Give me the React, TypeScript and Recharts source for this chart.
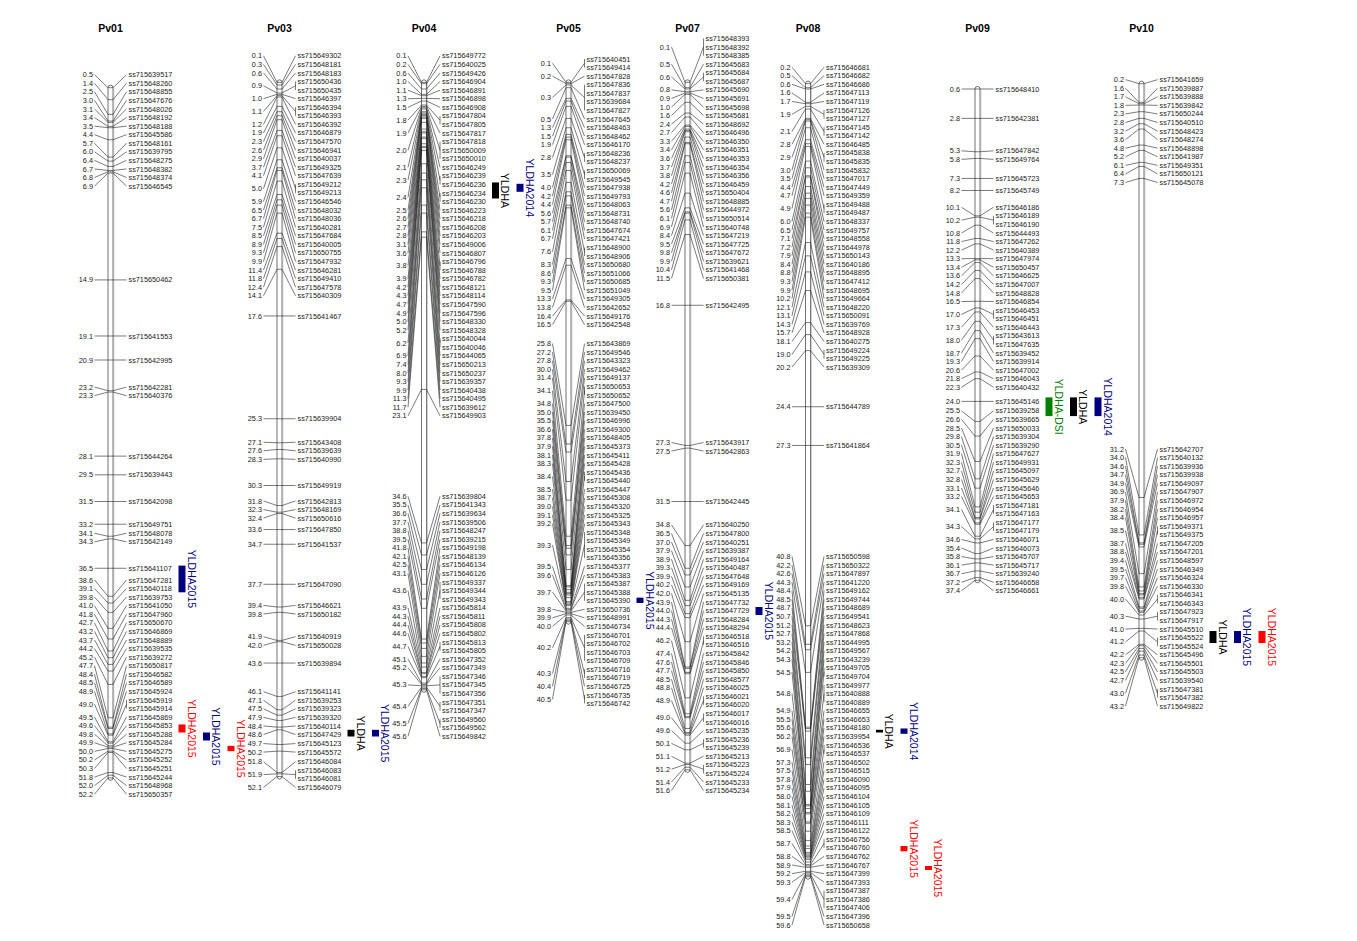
import React from 'react';
import { ScatterChart, Scatter, XAxis, YAxis, ReferenceArea } from 'recharts';

type Marker = [number, string];

// linkage groups: [position cM, marker name]
const pv01: Marker[] = [
  [0.5, 'ss715639517'], [1.4, 'ss715648260'], [2.5, 'ss715648855'], [3.0, 'ss715647676'], [3.1, 'ss715648026'],
  [3.4, 'ss715648192'], [3.5, 'ss715648188'], [4.4, 'ss715645586'], [5.7, 'ss715648161'], [6.0, 'ss715639795'],
  [6.4, 'ss715648275'], [6.7, 'ss715648382'], [6.8, 'ss715648374'], [6.9, 'ss715646545'], [14.9, 'ss715650462'],
  [19.1, 'ss715641553'], [20.9, 'ss715642995'], [23.2, 'ss715642281'], [23.3, 'ss715640376'], [28.1, 'ss715644264'],
  [29.5, 'ss715639443'], [31.5, 'ss715642098'], [33.2, 'ss715649751'], [34.1, 'ss715648078'], [34.3, 'ss715642149'],
  [36.5, 'ss715641107'], [38.6, 'ss715647281'], [39.1, 'ss715640118'], [39.8, 'ss715639753'], [41.0, 'ss715641050'],
  [41.8, 'ss715647960'], [42.7, 'ss715650670'], [43.2, 'ss715646869'], [43.7, 'ss715648889'], [44.2, 'ss715639535'],
  [45.2, 'ss715639272'], [47.7, 'ss715650817'], [48.4, 'ss715646582'], [48.5, 'ss715646589'], [48.9, 'ss715645924'],
  [49.0, 'ss715645919'], [49.0, 'ss715645914'], [49.5, 'ss715645869'], [49.6, 'ss715645853'], [49.8, 'ss715645288'],
  [49.9, 'ss715645284'], [50.0, 'ss715645275'], [50.2, 'ss715645252'], [50.3, 'ss715645251'], [51.8, 'ss715645244'],
  [52.0, 'ss715648968'], [52.2, 'ss715650357'],
];

const pv03: Marker[] = [
  [0.1, 'ss715649302'], [0.3, 'ss715648181'], [0.6, 'ss715648183'], [0.9, 'ss715650436'], [0.9, 'ss715650435'],
  [1.0, 'ss715646397'], [1.1, 'ss715646394'], [1.1, 'ss715646393'], [1.2, 'ss715646392'], [1.9, 'ss715646879'],
  [2.3, 'ss715647570'], [2.6, 'ss715646941'], [2.9, 'ss715640037'], [3.7, 'ss715649325'], [4.1, 'ss715647639'],
  [5.0, 'ss715649212'], [5.0, 'ss715649213'], [5.9, 'ss715646546'], [6.5, 'ss715648032'], [6.7, 'ss715648036'],
  [7.5, 'ss715640281'], [8.5, 'ss715647684'], [8.9, 'ss715640005'], [9.3, 'ss715650755'], [9.9, 'ss715647932'],
  [11.4, 'ss715646281'], [11.8, 'ss715649410'], [12.4, 'ss715647578'], [14.1, 'ss715640309'], [17.6, 'ss715641467'],
  [25.3, 'ss715639904'], [27.1, 'ss715643408'], [27.6, 'ss715639639'], [28.3, 'ss715640990'], [30.3, 'ss715649919'],
  [31.8, 'ss715642813'], [32.3, 'ss715648169'], [32.4, 'ss715650616'], [33.6, 'ss715647850'], [34.7, 'ss715641537'],
  [37.7, 'ss715647090'], [39.4, 'ss715646621'], [39.8, 'ss715650182'], [41.9, 'ss715640919'], [42.0, 'ss715650028'],
  [43.6, 'ss715639894'], [46.1, 'ss715641141'], [47.1, 'ss715639253'], [47.5, 'ss715639323'], [47.9, 'ss715639320'],
  [48.4, 'ss715640114'], [48.6, 'ss715647429'], [49.7, 'ss715645123'], [50.2, 'ss715645572'], [51.8, 'ss715646084'],
  [51.9, 'ss715646083'], [51.9, 'ss715646081'], [52.1, 'ss715646079'],
];

const pv04: Marker[] = [
  [0.1, 'ss715649772'], [0.2, 'ss715640025'], [0.6, 'ss715649426'], [1.0, 'ss715646904'], [1.1, 'ss715646891'],
  [1.3, 'ss715646898'], [1.5, 'ss715646908'], [1.8, 'ss715647804'], [1.8, 'ss715647805'], [1.9, 'ss715647817'],
  [2.0, 'ss715647818'], [2.0, 'ss715650009'], [2.0, 'ss715650010'], [2.1, 'ss715646249'], [2.3, 'ss715646239'],
  [2.3, 'ss715646236'], [2.4, 'ss715646234'], [2.4, 'ss715646230'], [2.5, 'ss715646223'], [2.6, 'ss715646218'],
  [2.7, 'ss715646208'], [2.8, 'ss715646203'], [3.1, 'ss715649006'], [3.6, 'ss715646807'], [3.8, 'ss715646796'],
  [3.8, 'ss715646788'], [3.9, 'ss715646782'], [4.2, 'ss715648121'], [4.3, 'ss715648114'], [4.7, 'ss715647590'],
  [4.9, 'ss715647596'], [5.0, 'ss715648330'], [5.2, 'ss715648328'], [6.2, 'ss715640044'], [6.2, 'ss715640046'],
  [6.9, 'ss715644065'], [7.4, 'ss715650213'], [8.0, 'ss715650237'], [9.3, 'ss715639357'], [9.9, 'ss715640438'],
  [11.3, 'ss715640495'], [11.7, 'ss715639612'], [23.1, 'ss715649903'], [34.6, 'ss715639804'], [35.5, 'ss715641343'],
  [36.6, 'ss715639634'], [37.7, 'ss715639506'], [38.8, 'ss715648247'], [39.5, 'ss715639215'], [41.8, 'ss715649198'],
  [42.1, 'ss715648139'], [42.5, 'ss715646134'], [43.1, 'ss715646126'], [43.6, 'ss715649337'], [43.6, 'ss715649344'],
  [43.6, 'ss715649343'], [43.9, 'ss715645814'], [44.3, 'ss715645811'], [44.4, 'ss715645808'], [44.6, 'ss715645802'],
  [44.7, 'ss715645813'], [44.7, 'ss715645805'], [45.1, 'ss715647352'], [45.2, 'ss715647349'], [45.3, 'ss715647346'],
  [45.3, 'ss715647345'], [45.3, 'ss715647356'], [45.4, 'ss715647351'], [45.4, 'ss715647347'], [45.5, 'ss715649560'],
  [45.5, 'ss715649562'], [45.6, 'ss715649842'],
];

const pv05: Marker[] = [
  [0.1, 'ss715640451'], [0.1, 'ss715649414'], [0.2, 'ss715647828'], [0.3, 'ss715647836'], [0.3, 'ss715647837'],
  [0.3, 'ss715639684'], [0.3, 'ss715647827'], [0.5, 'ss715647645'], [1.3, 'ss715648463'], [1.5, 'ss715648462'],
  [1.9, 'ss715646170'], [2.8, 'ss715648236'], [2.8, 'ss715648237'], [3.5, 'ss715650069'], [3.5, 'ss715649545'],
  [4.0, 'ss715647938'], [4.2, 'ss715649793'], [4.4, 'ss715648063'], [5.6, 'ss715648731'], [5.7, 'ss715648740'],
  [6.1, 'ss715647674'], [6.7, 'ss715647421'], [7.6, 'ss715648900'], [7.6, 'ss715648906'], [8.3, 'ss715650680'],
  [8.6, 'ss715651066'], [9.3, 'ss715650685'], [9.5, 'ss715651049'], [13.3, 'ss715649305'], [13.8, 'ss715642652'],
  [16.4, 'ss715649176'], [16.5, 'ss715642548'], [25.8, 'ss715643869'], [27.2, 'ss715649546'], [27.8, 'ss715643323'],
  [30.0, 'ss715649462'], [31.4, 'ss715649137'], [34.1, 'ss715650653'], [34.1, 'ss715650652'], [34.8, 'ss715647500'],
  [35.0, 'ss715639450'], [35.5, 'ss715646996'], [36.6, 'ss715649300'], [37.8, 'ss715648405'], [37.9, 'ss715645373'],
  [38.1, 'ss715645411'], [38.3, 'ss715645428'], [38.4, 'ss715645436'], [38.4, 'ss715645440'], [38.5, 'ss715645447'],
  [38.7, 'ss715645308'], [39.0, 'ss715645320'], [39.1, 'ss715645325'], [39.2, 'ss715645343'], [39.3, 'ss715645348'],
  [39.3, 'ss715645349'], [39.3, 'ss715645354'], [39.3, 'ss715645356'], [39.5, 'ss715645377'], [39.6, 'ss715645383'],
  [39.7, 'ss715645387'], [39.7, 'ss715645388'], [39.7, 'ss715645390'], [39.8, 'ss715650736'], [39.9, 'ss715648991'],
  [40.0, 'ss715646734'], [40.2, 'ss715646701'], [40.2, 'ss715646702'], [40.2, 'ss715646703'], [40.2, 'ss715646709'],
  [40.3, 'ss715646716'], [40.3, 'ss715646719'], [40.4, 'ss715646725'], [40.5, 'ss715646735'], [40.5, 'ss715646742'],
];

const pv07: Marker[] = [
  [0.1, 'ss715648393'], [0.1, 'ss715648392'], [0.1, 'ss715648385'], [0.5, 'ss715645683'], [0.6, 'ss715645684'],
  [0.6, 'ss715645687'], [0.8, 'ss715645690'], [0.9, 'ss715645691'], [1.0, 'ss715645698'], [1.6, 'ss715645681'],
  [2.4, 'ss715648692'], [2.7, 'ss715646496'], [3.3, 'ss715646350'], [3.4, 'ss715646351'], [3.6, 'ss715646353'],
  [3.7, 'ss715646354'], [3.8, 'ss715646356'], [4.2, 'ss715646459'], [4.6, 'ss715650404'], [4.7, 'ss715648885'],
  [5.6, 'ss715644972'], [6.1, 'ss715650514'], [6.9, 'ss715640748'], [8.4, 'ss715647219'], [9.5, 'ss715647725'],
  [9.8, 'ss715647672'], [9.9, 'ss715639621'], [10.4, 'ss715641468'], [11.5, 'ss715650381'], [16.8, 'ss715642495'],
  [27.3, 'ss715643917'], [27.5, 'ss715642863'], [31.5, 'ss715642445'], [34.8, 'ss715640250'], [36.5, 'ss715647800'],
  [37.0, 'ss715640251'], [37.9, 'ss715639387'], [38.9, 'ss715649164'], [39.3, 'ss715640487'], [39.9, 'ss715647648'],
  [40.2, 'ss715649169'], [42.0, 'ss715645135'], [43.9, 'ss715647732'], [44.0, 'ss715647729'], [44.3, 'ss715648284'],
  [44.4, 'ss715648294'], [46.2, 'ss715646518'], [46.2, 'ss715646516'], [47.4, 'ss715645842'], [47.6, 'ss715645846'],
  [47.7, 'ss715645850'], [48.5, 'ss715648577'], [48.8, 'ss715646025'], [48.9, 'ss715646021'], [48.9, 'ss715646020'],
  [49.0, 'ss715646017'], [49.0, 'ss715646016'], [49.6, 'ss715645235'], [50.1, 'ss715645236'], [50.1, 'ss715645239'],
  [51.1, 'ss715645213'], [51.2, 'ss715645223'], [51.2, 'ss715645224'], [51.4, 'ss715645233'], [51.6, 'ss715645234'],
];

const pv08: Marker[] = [
  [0.2, 'ss715646681'], [0.5, 'ss715646682'], [0.6, 'ss715646686'], [1.6, 'ss715647113'], [1.7, 'ss715647119'],
  [1.9, 'ss715647126'], [1.9, 'ss715647127'], [2.1, 'ss715647145'], [2.1, 'ss715647142'], [2.8, 'ss715646485'],
  [2.9, 'ss715645838'], [2.9, 'ss715645835'], [3.0, 'ss715645832'], [3.5, 'ss715647017'], [4.4, 'ss715647449'],
  [4.7, 'ss715649359'], [4.9, 'ss715649488'], [4.9, 'ss715649487'], [6.0, 'ss715648337'], [6.5, 'ss715649757'],
  [7.1, 'ss715648558'], [7.2, 'ss715644978'], [7.9, 'ss715650143'], [8.4, 'ss715640186'], [8.8, 'ss715648895'],
  [9.3, 'ss715647412'], [9.9, 'ss715648695'], [10.2, 'ss715649664'], [12.1, 'ss715648220'], [13.1, 'ss715650091'],
  [14.3, 'ss715639769'], [15.7, 'ss715648928'], [18.1, 'ss715640275'], [19.0, 'ss715649224'], [19.0, 'ss715649225'],
  [20.2, 'ss715639309'], [24.4, 'ss715644789'], [27.3, 'ss715641864'], [40.8, 'ss715650598'], [42.2, 'ss715650322'],
  [42.6, 'ss715647897'], [44.3, 'ss715641220'], [48.4, 'ss715649162'], [48.5, 'ss715649744'], [48.7, 'ss715648689'],
  [50.7, 'ss715649541'], [51.2, 'ss715648623'], [52.7, 'ss715647868'], [53.2, 'ss715644995'], [54.2, 'ss715649567'],
  [54.3, 'ss715643239'], [54.5, 'ss715649705'], [54.5, 'ss715649704'], [54.8, 'ss715649977'], [54.8, 'ss715640888'],
  [54.8, 'ss715640889'], [54.9, 'ss715646655'], [55.5, 'ss715646653'], [55.6, 'ss715648180'], [56.2, 'ss715639954'],
  [56.9, 'ss715646536'], [56.9, 'ss715646537'], [57.3, 'ss715646502'], [57.5, 'ss715646515'], [57.8, 'ss715646090'],
  [57.9, 'ss715646095'], [58.0, 'ss715646104'], [58.1, 'ss715646105'], [58.2, 'ss715646109'], [58.3, 'ss715646111'],
  [58.5, 'ss715646122'], [58.7, 'ss715646756'], [58.7, 'ss715646760'], [58.8, 'ss715646762'], [58.9, 'ss715646767'],
  [59.2, 'ss715647399'], [59.3, 'ss715647393'], [59.4, 'ss715647387'], [59.4, 'ss715647386'], [59.4, 'ss715647406'],
  [59.5, 'ss715647396'], [59.6, 'ss715650658'],
];

const pv09: Marker[] = [
  [0.6, 'ss715648410'], [2.8, 'ss715642381'], [5.3, 'ss715647842'], [5.8, 'ss715649764'], [7.3, 'ss715645723'],
  [8.2, 'ss715645749'], [10.1, 'ss715646186'], [10.2, 'ss715646189'], [10.2, 'ss715646190'], [10.8, 'ss715644493'],
  [11.8, 'ss715647262'], [12.2, 'ss715640389'], [13.3, 'ss715647974'], [13.4, 'ss715650457'], [13.6, 'ss715646625'],
  [14.2, 'ss715647007'], [14.8, 'ss715648828'], [16.5, 'ss715646854'], [17.0, 'ss715646453'], [17.0, 'ss715646451'],
  [17.3, 'ss715646443'], [18.0, 'ss715643613'], [18.0, 'ss715647635'], [18.7, 'ss715639452'], [19.3, 'ss715639914'],
  [20.6, 'ss715647002'], [21.8, 'ss715646043'], [22.3, 'ss715640432'], [24.0, 'ss715645146'], [25.5, 'ss715639258'],
  [26.6, 'ss715639665'], [28.5, 'ss715650033'], [29.8, 'ss715639304'], [30.5, 'ss715639290'], [31.9, 'ss715647627'],
  [32.3, 'ss715649931'], [32.7, 'ss715645097'], [32.8, 'ss715645629'], [33.1, 'ss715645646'], [33.2, 'ss715645653'],
  [34.1, 'ss715647181'], [34.1, 'ss715647163'], [34.3, 'ss715647177'], [34.3, 'ss715647179'], [34.6, 'ss715646071'],
  [35.4, 'ss715646073'], [35.8, 'ss715645707'], [36.1, 'ss715645717'], [36.7, 'ss715639240'], [37.2, 'ss715646658'],
  [37.4, 'ss715646661'],
];

const pv10: Marker[] = [
  [0.2, 'ss715641659'], [1.6, 'ss715639887'], [1.7, 'ss715639888'], [1.8, 'ss715639842'], [2.3, 'ss715650244'],
  [2.8, 'ss715640510'], [3.2, 'ss715648423'], [3.6, 'ss715648274'], [4.8, 'ss715648898'], [5.2, 'ss715641987'],
  [6.1, 'ss715649351'], [6.4, 'ss715650121'], [7.3, 'ss715645078'], [31.2, 'ss715642707'], [34.0, 'ss715640132'],
  [34.6, 'ss715639936'], [34.7, 'ss715639938'], [34.9, 'ss715649097'], [36.9, 'ss715647907'], [37.9, 'ss715646972'],
  [38.2, 'ss715646954'], [38.4, 'ss715646957'], [38.5, 'ss715649371'], [38.5, 'ss715649375'], [38.7, 'ss715647205'],
  [38.8, 'ss715647201'], [39.4, 'ss715648597'], [39.5, 'ss715646349'], [39.7, 'ss715646324'], [39.8, 'ss715646330'],
  [40.0, 'ss715646341'], [40.0, 'ss715646343'], [40.3, 'ss715647923'], [40.3, 'ss715647917'], [41.0, 'ss715645510'],
  [41.2, 'ss715645522'], [41.2, 'ss715645524'], [42.2, 'ss715645496'], [42.3, 'ss715645501'], [42.5, 'ss715645503'],
  [42.7, 'ss715639540'], [43.0, 'ss715647381'], [43.0, 'ss715647382'], [43.2, 'ss715649822'],
];

const chromNames = ['Pv01', 'Pv03', 'Pv04', 'Pv05', 'Pv07', 'Pv08', 'Pv09', 'Pv10'];
const chromMarkers = [pv01, pv03, pv04, pv05, pv07, pv08, pv09, pv10];

// QTL intervals (cM); env picks the colour, col is the stacking column beside the group
const qtls = [
  { chr: 'Pv01', trait: 'YLDHA2015', env: 'y15a', from: 36.3, to: 38.3, col: 0 },
  { chr: 'Pv01', trait: 'YLDHA2015', env: 'y15b', from: 48.2, to: 48.8, col: 0 },
  { chr: 'Pv01', trait: 'YLDHA2015', env: 'y15a', from: 48.8, to: 49.4, col: 1 },
  { chr: 'Pv01', trait: 'YLDHA2015', env: 'y15b', from: 49.8, to: 50.2, col: 2 },
  { chr: 'Pv03', trait: 'YLDHA', env: 'all', from: 48.6, to: 49.1, col: 0 },
  { chr: 'Pv03', trait: 'YLDHA2015', env: 'y15a', from: 48.6, to: 49.1, col: 1 },
  { chr: 'Pv04', trait: 'YLDHA', env: 'all', from: 7.6, to: 8.8, col: 0 },
  { chr: 'Pv04', trait: 'YLDHA2014', env: 'y14', from: 7.7, to: 8.3, col: 1 },
  { chr: 'Pv05', trait: 'YLDHA2015', env: 'y15a', from: 38.7, to: 39.1, col: 0 },
  { chr: 'Pv07', trait: 'YLDHA2015', env: 'y15a', from: 39.4, to: 40.0, col: 0 },
  { chr: 'Pv08', trait: 'YLDHA', env: 'all', from: 48.6, to: 48.8, col: 0 },
  { chr: 'Pv08', trait: 'YLDHA2014', env: 'y14', from: 48.5, to: 48.9, col: 1 },
  { chr: 'Pv08', trait: 'YLDHA2015', env: 'y15b', from: 57.3, to: 57.7, col: 1 },
  { chr: 'Pv08', trait: 'YLDHA2015', env: 'y15b', from: 58.8, to: 59.1, col: 2 },
  { chr: 'Pv09', trait: 'YLDHA-DSI', env: 'dsi', from: 23.7, to: 25.1, col: 0 },
  { chr: 'Pv09', trait: 'YLDHA', env: 'all', from: 23.7, to: 25.1, col: 1 },
  { chr: 'Pv09', trait: 'YLDHA2014', env: 'y14', from: 23.7, to: 25.1, col: 2 },
  { chr: 'Pv10', trait: 'YLDHA', env: 'all', from: 41.2, to: 42.1, col: 0 },
  { chr: 'Pv10', trait: 'YLDHA2015', env: 'y15a', from: 41.2, to: 42.1, col: 1 },
  { chr: 'Pv10', trait: 'YLDHA2015', env: 'y15b', from: 41.2, to: 42.1, col: 2 },
];

const ENV_COLOR: Record<string, string> = {
  all: '#000000',
  y14: '#00007f',
  y15a: '#00007f',
  y15b: '#ff0000',
  dsi: '#008000',
};

// layout
const W = 1357;
const H = 941;
const PLOT_TOP = 81;
const AXIS_H = 30;
const MARGIN = { top: PLOT_TOP - AXIS_H, right: 0, bottom: 59, left: 0 };
const Y_MAX = 60;
const PX_PER_CM = (H - PLOT_TOP - MARGIN.bottom) / Y_MAX;
const COL_X = [110.5, 279.5, 424, 568.5, 687.5, 808, 977.5, 1141.5];
const BAR_HALF = 2.5;
const LABEL_GAP = 8.57 / PX_PER_CM;
// labels may not go above / below these page rows
const LABEL_MIN = (36 - PLOT_TOP) / PX_PER_CM;
const LABEL_MAX = (925 - PLOT_TOP) / PX_PER_CM;
const FONT = "'Liberation Sans', Arial, sans-serif";
const INK = '#222';

// push overlapping labels apart; a cluster is centred on the middle of its marker range
function spread(d: number[], gap: number): number[] {
  type C = { i0: number; i1: number; lo: number; hi: number };
  const top = (c: C) => {
    const span = (c.i1 - c.i0) * gap;
    const t = (c.lo + c.hi) / 2 - span / 2;
    return Math.max(LABEL_MIN, Math.min(t, LABEL_MAX - span));
  };
  const bot = (c: C) => top(c) + (c.i1 - c.i0) * gap;
  const cs: C[] = [];
  d.forEach((v, i) => {
    let c: C = { i0: i, i1: i, lo: v, hi: v };
    while (cs.length && bot(cs[cs.length - 1]) + gap > top(c) + 1e-9) {
      const p = cs.pop()!;
      c = { i0: p.i0, i1: c.i1, lo: p.lo, hi: c.hi };
    }
    cs.push(c);
  });
  const out: number[] = new Array(d.length);
  cs.forEach((c) => {
    const t = top(c);
    for (let i = c.i0; i <= c.i1; i++) out[i] = t + (i - c.i0) * gap;
  });
  return out;
}

function buildGroups(markers: Marker[], x: number) {
  const ys = spread(markers.map((m) => m[0]), LABEL_GAP);
  const groups: { x: number; y: number; names: { n: string; y: number }[]; left: number }[] = [];
  markers.forEach(([pos, name], i) => {
    const last = groups[groups.length - 1];
    if (last && last.y === pos) last.names.push({ n: name, y: ys[i] });
    else groups.push({ x, y: pos, names: [{ n: name, y: ys[i] }], left: 0 });
  });
  groups.forEach((g) => {
    g.left = (g.names[0].y + g.names[g.names.length - 1].y) / 2;
  });
  return groups;
}

const MarkerShape = (props: any) => {
  const { cx, cy, payload } = props;
  if (cx == null || cy == null) return <g />;
  const toPx = (v: number) => cy + (v - payload.y) * PX_PER_CM;
  const ly = toPx(payload.left);
  const nys: number[] = payload.names.map((n: any) => toPx(n.y));
  const first = nys[0];
  const last = nys[nys.length - 1];
  const lineProps = { stroke: INK, strokeWidth: 0.6, fill: 'none' };
  return (
    <g>
      <line x1={cx - BAR_HALF} x2={cx + BAR_HALF} y1={cy} y2={cy} {...lineProps} />
      <polyline points={`${cx - 16},${ly} ${cx - BAR_HALF},${cy}`} {...lineProps} />
      <polyline points={`${cx + BAR_HALF},${cy} ${cx + 16},${(first + last) / 2}`} {...lineProps} />
      {nys.length > 1 && <line x1={cx + 16} x2={cx + 16} y1={first} y2={last} {...lineProps} />}
      <text x={cx - 17.5} y={ly} dy="0.35em" textAnchor="end" fontSize={7.3} fontFamily={FONT} fill={INK}>
        {payload.y.toFixed(1)}
      </text>
      {payload.names.map((n: any, i: number) => (
        <text key={n.n} x={cx + 18} y={nys[i]} dy="0.35em" fontSize={7.3} fontFamily={FONT} fill={INK}>
          {n.n}
        </text>
      ))}
    </g>
  );
};

const BarShape = (p: any) => (
  <g>
    <rect x={p.x} y={p.y - 2.5} width={p.width} height={p.height + 5} rx={2.5} fill="#fff" stroke="#333" strokeWidth={0.7} />
    <line x1={p.x + p.width + 0.8} x2={p.x + p.width + 0.8} y1={p.y} y2={p.y + p.height} stroke="#aaa" strokeWidth={0.7} />
  </g>
);

const makeQtlShape = (label: string, color: string) => (p: any) => (
  <g>
    <rect x={p.x} y={p.y} width={p.width} height={Math.max(p.height, 2)} fill={color} />
    <text
      x={p.x + p.width + 2}
      y={p.y + p.height / 2}
      transform={`rotate(90 ${p.x + p.width + 2} ${p.y + p.height / 2})`}
      textAnchor="middle"
      fontSize={10.5}
      fontFamily={FONT}
      fill={color}
    >
      {label}
    </text>
  </g>
);

export default function App() {
  const allGroups = chromMarkers.map((m, i) => buildGroups(m, COL_X[i]));
  return (
    <div style={{ position: 'absolute', left: 0, top: 0, background: '#fff' }}>
      <ScatterChart width={W} height={H} margin={MARGIN}>
        <XAxis
          type="number"
          dataKey="x"
          domain={[0, W]}
          orientation="top"
          height={AXIS_H}
          ticks={COL_X}
          interval={0}
          tickFormatter={(v: number) => chromNames[COL_X.indexOf(v)] ?? ''}
          axisLine={false}
          tickLine={false}
          tickSize={6}
          tickMargin={43}
          tick={{ fontSize: 10.5, fontWeight: 'bold', fill: '#000', fontFamily: FONT }}
        />
        <YAxis type="number" dataKey="y" domain={[0, Y_MAX]} reversed hide />
        {chromMarkers.map((m, i) => (
          <ReferenceArea
            key={`bar-${i}`}
            x1={COL_X[i] - BAR_HALF}
            x2={COL_X[i] + BAR_HALF}
            y1={m[0][0]}
            y2={m[m.length - 1][0]}
            shape={BarShape}
          />
        ))}
        {qtls.map((q, i) => {
          const x0 = COL_X[chromNames.indexOf(q.chr)] + 68 + q.col * 24.5;
          return (
            <ReferenceArea
              key={`qtl-${i}`}
              x1={x0}
              x2={x0 + 7}
              y1={q.from}
              y2={q.to}
              shape={makeQtlShape(q.trait, ENV_COLOR[q.env])}
            />
          );
        })}
        {allGroups.map((g, i) => (
          <Scatter key={chromNames[i]} name={chromNames[i]} data={g} shape={MarkerShape} isAnimationActive={false} />
        ))}
      </ScatterChart>
    </div>
  );
}
